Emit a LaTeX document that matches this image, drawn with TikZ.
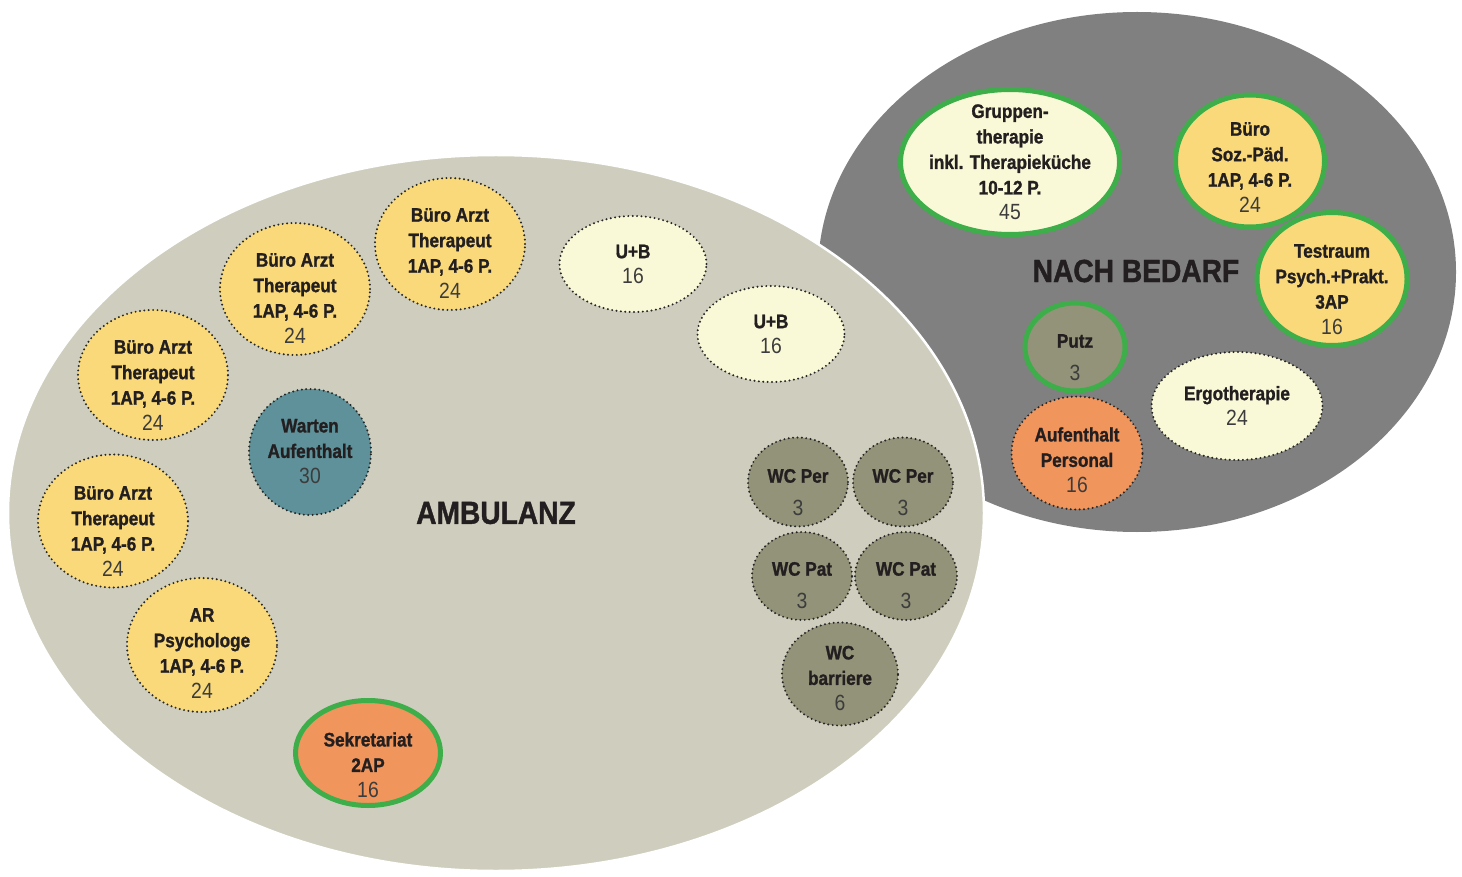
\documentclass[tikz,border=0pt]{standalone}
\usepackage{fontspec}
\setmainfont{Liberation Sans}[FakeStretch=0.88, BoldFeatures={FakeBold=1.2}]
\usetikzlibrary{shapes.geometric}
\definecolor{ambfill}{RGB}{207,206,190}
\definecolor{bedfill}{RGB}{128,128,128}
\definecolor{bueroyel}{RGB}{249,217,122}
\definecolor{paleyel}{RGB}{250,249,215}
\definecolor{wartteal}{RGB}{94,145,153}
\definecolor{sekrorange}{RGB}{240,149,92}
\definecolor{wcolive}{RGB}{147,147,121}
\definecolor{rimgreen}{RGB}{61,174,73}
\definecolor{txtdark}{RGB}{35,31,32}
\definecolor{numgrey}{RGB}{60,60,60}
\newcommand{\rfont}{\fontsize{19.5}{25.5}\selectfont\bfseries}
\newcommand{\nm}[1]{{\fontsize{22}{25.5}\selectfont\mdseries\color{numgrey}#1}}
\newcommand{\rtext}[2]{\smash{\makebox[0pt]{\raisebox{-#1}{\begin{tabular}{@{}c@{}}#2\end{tabular}}}}}
\tikzset{
  room/.style={ellipse, inner sep=0pt, text=txtdark, font=\rfont},
  dotrim/.style={draw=black!85, line width=2.2pt, dash pattern=on 0pt off 4.4pt, line cap=round},
  greenrim/.style={draw=rimgreen, line width=5pt},
  area/.style={ellipse, inner sep=0pt, text=txtdark, font=\fontsize{32}{36}\selectfont\bfseries},
}
\begin{document}
\begin{tikzpicture}[x=1pt, y=-1pt]
	\useasboundingbox (0,0) rectangle (1462,877);
	% areas
	\node (bedarf) [area, fill=bedfill, minimum width=638pt, minimum height=520pt] at (1137,272) {};
	\node (ambulanz) [area, fill=ambfill, draw=white, line width=2.5pt, minimum width=976pt, minimum height=716pt] at (496,513) {AMBULANZ};
	\node (bedarflabel) [area] at (1136,271) {NACH BEDARF};
	% ambulanz rooms
	\node (arzt1) [room, dotrim, fill=bueroyel, minimum width=150pt, minimum height=130pt] at (153,375) {\rtext{17pt}{Büro Arzt\\Therapeut\\1AP, 4-6 P.\\\nm{24}}};
	\node (arzt2) [room, dotrim, fill=bueroyel, minimum width=150pt, minimum height=132pt] at (295,289) {\rtext{16pt}{Büro Arzt\\Therapeut\\1AP, 4-6 P.\\\nm{24}}};
	\node (arzt3) [room, dotrim, fill=bueroyel, minimum width=150pt, minimum height=132pt] at (450,244) {\rtext{16pt}{Büro Arzt\\Therapeut\\1AP, 4-6 P.\\\nm{24}}};
	\node (arzt4) [room, dotrim, fill=bueroyel, minimum width=150pt, minimum height=133pt] at (113,521) {\rtext{17pt}{Büro Arzt\\Therapeut\\1AP, 4-6 P.\\\nm{24}}};
	\node (psych) [room, dotrim, fill=bueroyel, minimum width=150pt, minimum height=134pt] at (202,645) {\rtext{15pt}{AR\\Psychologe\\1AP, 4-6 P.\\\nm{24}}};
	\node (warten) [room, dotrim, fill=wartteal, minimum width=122pt, minimum height=126pt] at (310,452) {\rtext{6pt}{Warten\\Aufenthalt\\\nm{30}}};
	\node (sekr) [room, greenrim, fill=sekrorange, minimum width=145pt, minimum height=105pt] at (368,753) {\rtext{19pt}{Sekretariat\\2AP\\\nm{16}}};
	\node (ub1) [room, dotrim, fill=paleyel, minimum width=147pt, minimum height=96pt] at (633,264) {\rtext{7pt}{U+B\\\nm{16}}};
	\node (ub2) [room, dotrim, fill=paleyel, minimum width=147pt, minimum height=96pt] at (771,334) {\rtext{7pt}{U+B\\\nm{16}}};
	\node (wcper1) [room, dotrim, fill=wcolive, minimum width=100pt, minimum height=89pt] at (798,482) {\rtext{17pt}{WC Per\\[7pt]\nm{3}}};
	\node (wcper2) [room, dotrim, fill=wcolive, minimum width=100pt, minimum height=89pt] at (903,482) {\rtext{17pt}{WC Per\\[7pt]\nm{3}}};
	\node (wcpat1) [room, dotrim, fill=wcolive, minimum width=100pt, minimum height=88pt] at (802,576) {\rtext{16pt}{WC Pat\\[7pt]\nm{3}}};
	\node (wcpat2) [room, dotrim, fill=wcolive, minimum width=102pt, minimum height=88pt] at (906,576) {\rtext{16pt}{WC Pat\\[7pt]\nm{3}}};
	\node (wcbar) [room, dotrim, fill=wcolive, minimum width=116pt, minimum height=103pt] at (840,674) {\rtext{11pt}{WC\\barriere\\\nm{6}}};
	% nach bedarf rooms
	\node (gruppe) [room, greenrim, fill=paleyel, minimum width=219pt, minimum height=145pt] at (1010,162) {\rtext{7pt}{Gruppen-\\therapie\\inkl. Therapieküche\\10-12 P.\\\nm{45}}};
	\node (sozpaed) [room, greenrim, fill=bueroyel, minimum width=149pt, minimum height=132pt] at (1250,161) {\rtext{13pt}{Büro\\Soz.-Päd.\\1AP, 4-6 P.\\\nm{24}}};
	\node (test) [room, greenrim, fill=bueroyel, minimum width=150pt, minimum height=133pt] at (1332,279) {\rtext{17pt}{Testraum\\Psych.+Prakt.\\3AP\\\nm{16}}};
	\node (putz) [room, greenrim, fill=wcolive, minimum width=100pt, minimum height=88pt] at (1075,347) {\rtext{17pt}{Putz\\[7pt]\nm{3}}};
	\node (aufpers) [room, dotrim, fill=sekrorange, minimum width=131pt, minimum height=113pt] at (1077,453) {\rtext{14pt}{Aufenthalt\\Personal\\\nm{16}}};
	\node (ergo) [room, dotrim, fill=paleyel, minimum width=171pt, minimum height=108pt] at (1237,406) {\rtext{7pt}{Ergotherapie\\\nm{24}}};
\end{tikzpicture}
\end{document}
